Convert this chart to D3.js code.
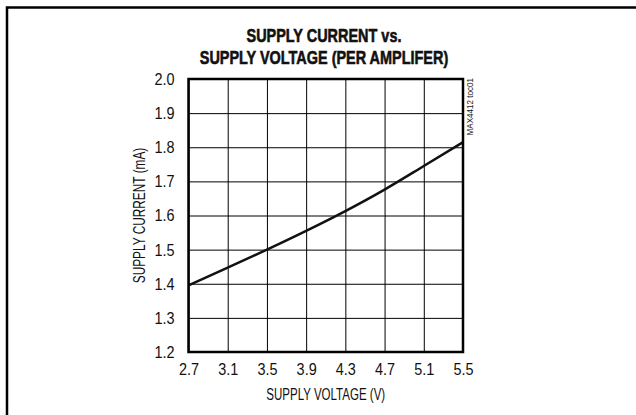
<!DOCTYPE html>
<html>
<head>
<meta charset="utf-8">
<script src="https://cdn.jsdelivr.net/npm/d3@7"></script>
<style>
  body { margin: 0; background: #fff; }
  text { font-family: "Liberation Sans", Arial, sans-serif; fill: #111; }
</style>
</head>
<body>
<div id="chart"></div>
<script>
var width = 636, height = 415;

// supply voltage (V) and supply current per amplifier (mA)
var voltage = [2.7, 3.1, 3.5, 3.9, 4.3, 4.7, 5.1, 5.5];
var current = [1.395, 1.447, 1.500, 1.555, 1.613, 1.676, 1.745, 1.815];
var xTicks = [2.7, 3.1, 3.5, 3.9, 4.3, 4.7, 5.1, 5.5];
var yTicks = [1.2, 1.3, 1.4, 1.5, 1.6, 1.7, 1.8, 1.9, 2.0];
var titleLines = ["SUPPLY CURRENT vs.", "SUPPLY VOLTAGE (PER AMPLIFER)"];

var margin = {left: 188.5, right: 636 - 463, top: 79, bottom: 415 - 352};
var w = width - margin.left - margin.right;
var h = height - margin.top - margin.bottom;

// no narrow font installed, so squeeze the glyphs instead
function condense(sel, k) {
    sel.each(function () {
        var len = this.getComputedTextLength();
        d3.select(this)
            .attr('textLength', len * k)
            .attr('lengthAdjust', 'spacingAndGlyphs');
    });
}

var svg = d3.select('#chart').append('svg')
    .attr('width', width)
    .attr('height', height);

// outer frame (left + top only)
svg.append('path')
    .attr('d', 'M7,415V7.5H636')
    .attr('fill', 'none')
    .attr('stroke', '#000')
    .attr('stroke-width', 2.5);

var x = d3.scaleLinear().domain([2.7, 5.5]).range([0, w]);
var y = d3.scaleLinear().domain([1.2, 2.0]).range([h, 0]);

var g = svg.append('g')
    .attr('transform', 'translate(' + margin.left + ',' + margin.top + ')');

// grid
g.append('g')
    .call(d3.axisBottom(x).tickValues(xTicks).tickSize(h).tickFormat(''))
    .call(a => a.select('.domain').remove())
    .selectAll('line').attr('stroke', '#000').attr('stroke-width', 1);

g.append('g')
    .call(d3.axisLeft(y).tickValues(yTicks).tickSize(-w).tickFormat(''))
    .call(a => a.select('.domain').remove())
    .selectAll('line').attr('stroke', '#000').attr('stroke-width', 1);

// tick labels
g.append('g')
    .attr('transform', 'translate(0,' + h + ')')
    .call(d3.axisBottom(x).tickValues(xTicks).tickSize(0).tickPadding(11).tickFormat(d3.format('.1f')))
    .call(a => a.select('.domain').remove())
    .selectAll('text')
    .style('font-size', '17px')
    .attr('fill', '#111')
    .call(condense, 0.85);

g.append('g')
    .call(d3.axisLeft(y).tickValues(yTicks).tickSize(0).tickPadding(14).tickFormat(d3.format('.1f')))
    .call(a => a.select('.domain').remove())
    .selectAll('text')
    .style('font-size', '17px')
    .attr('fill', '#111')
    .call(condense, 0.85);

g.selectAll('g').attr('font-family', null);

// curve
var line = d3.line()
    .x((d, i) => x(voltage[i]))
    .y(d => y(d))
    .curve(d3.curveMonotoneX);

g.append('path')
    .datum(current)
    .attr('d', line)
    .attr('fill', 'none')
    .attr('stroke', '#111')
    .attr('stroke-width', 2.5);

// plot border
g.append('rect')
    .attr('width', w)
    .attr('height', h)
    .attr('fill', 'none')
    .attr('stroke', '#000')
    .attr('stroke-width', 2.5);

// title
svg.selectAll('.title')
    .data(titleLines)
    .enter().append('text')
    .attr('class', 'title')
    .attr('x', 324)
    .attr('y', (d, i) => 42 + i * 22)
    .attr('text-anchor', 'middle')
    .style('font-size', '19px')
    .style('font-weight', 'bold')
    .attr('stroke', '#111')
    .attr('stroke-width', 0.6)
    .text(d => d)
    .call(condense, 0.76);

// axis titles
svg.append('text')
    .attr('x', margin.left + w / 2)
    .attr('y', 400)
    .attr('text-anchor', 'middle')
    .style('font-size', '16px')
    .text('SUPPLY VOLTAGE (V)')
    .call(condense, 0.72);

svg.append('text')
    .attr('transform', 'translate(145,' + (margin.top + h / 2) + ') rotate(-90)')
    .attr('text-anchor', 'middle')
    .style('font-size', '16px')
    .text('SUPPLY CURRENT (mA)')
    .call(condense, 0.74);

// part number
svg.append('text')
    .attr('transform', 'translate(473,78) rotate(-90)')
    .attr('text-anchor', 'end')
    .style('font-size', '9.5px')
    .attr('fill', '#444')
    .text('MAX4412 toc01')
    .call(condense, 0.85);
</script>
</body>
</html>
